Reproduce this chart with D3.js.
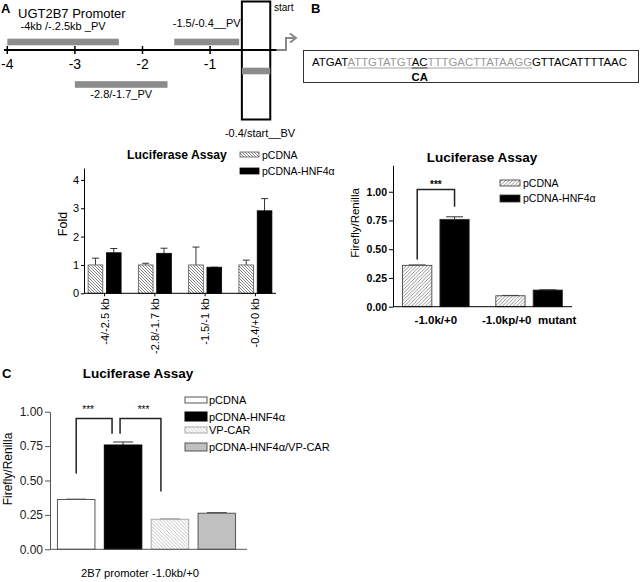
<!DOCTYPE html>
<html><head><meta charset="utf-8">
<script src="https://cdn.jsdelivr.net/npm/d3@7"></script>
<style>body{margin:0;background:#fff} svg{display:block;font-family:"Liberation Sans",Arial,Helvetica,sans-serif}</style>
</head><body><svg id="c" width="640" height="582"></svg>
<script>
// ---------- DATA ----------
// Panel A diagram (kb relative to start)
const diagramTicks = [-4, -3, -2, -1];
const fragLabels = ["-4kb /-.2.5kb _PV", "-2.8/-1.7_PV", "-1.5/-0.4__PV", "-0.4/start__BV"];
const fragStart = [-4.0, -3.0, -1.53, -0.53];
const fragEnd = [-2.35, -1.63, -0.57, -0.11];
// Panel B sequence
const seqParts = ["ATGAT", "ATTGTATGT", "AC", "TTTGACTTATAAGG", "GTTACATTTTAAC"];
const seqMutation = "CA";
// Panel A bar chart
const aCategories = ["-4/-2.5 kb", "-2.8/-1.7 kb", "-1.5/-1 kb", "-0.4/+0 kb"];
const aSeries = ["pCDNA", "pCDNA-HNF4α"];
const aPcdna = [1.0, 1.0, 1.0, 1.0];
const aPcdnaErr = [0.24, 0.06, 0.63, 0.17];
const aHnf = [1.43, 1.41, 0.92, 2.91];
const aHnfErr = [0.15, 0.18, 0.0, 0.43];
const aYTicks = [0, 1, 2, 3, 4];
// Panel B bar chart
const bCategories = ["-1.0k/+0", "-1.0kp/+0  mutant"];
const bSeries = ["pCDNA", "pCDNA-HNF4α"];
const bPcdna = [0.36, 0.095];
const bPcdnaErr = [0.003, 0.003];
const bHnf = [0.76, 0.145];
const bHnfErr = [0.022, 0.002];
const bYTicks = [0, 0.25, 0.5, 0.75, 1.0];
// Panel C bar chart
const cCategories = ["pCDNA", "pCDNA-HNF4α", "VP-CAR", "pCDNA-HNF4α/VP-CAR"];
const cValues = [0.362, 0.758, 0.218, 0.262];
const cErr = [0.002, 0.022, 0.001, 0.004];
const cYTicks = [0, 0.25, 0.5, 0.75, 1.0];
const cXLabel = "2B7 promoter -1.0kb/+0";

// ---------- DRAW ----------
const svg = d3.select("#c");
const defs = svg.append("defs");
function hatch(id, dir, size, color, w) {
  const p = defs.append("pattern").attr("id", id).attr("patternUnits", "userSpaceOnUse")
    .attr("width", size).attr("height", size);
  p.append("rect").attr("width", size).attr("height", size).attr("fill", "#fff");
  const s = size;
  const d = dir === "back"
    ? `M${-s/2},${s/2} L${s/2},${s*1.5} M0,0 L${s},${s} M${s/2},${-s/2} L${s*1.5},${s/2}`
    : `M${-s/2},${s/2} L${s/2},${-s/2} M0,${s} L${s},0 M${s/2},${s*1.5} L${s*1.5},${s/2}`;
  p.append("path").attr("d", d).attr("stroke", color).attr("stroke-width", w);
}
hatch("hA", "back", 3, "#666", 0.8);
hatch("hB", "fwd", 3.5, "#777", 0.8);
hatch("hC", "back", 3.5, "#b5b5b5", 0.8);

// ----- Panel A diagram -----
svg.append("text").attr("x", 1).attr("y", 13).attr("font-size", 13).attr("font-weight", "bold").text("A");
svg.append("text").attr("x", 18).attr("y", 18).attr("font-size", 13).text("UGT2B7 Promoter");
const xKb = d3.scaleLinear().domain([-4, 0]).range([7.3, 277.7]);
const axisY = 50;
svg.append("line").attr("x1", 4).attr("x2", xKb(0) - 1).attr("y1", axisY).attr("y2", axisY)
  .attr("stroke", "#000").attr("stroke-width", 2);
diagramTicks.forEach(t => {
  svg.append("line").attr("x1", xKb(t)).attr("x2", xKb(t)).attr("y1", axisY - 4).attr("y2", axisY + 4)
    .attr("stroke", "#000").attr("stroke-width", 1.5);
  svg.append("text").attr("x", xKb(t)).attr("y", axisY + 19).attr("text-anchor", "middle")
    .attr("font-size", 14).text(String(t));
});
// transcription arrow
svg.append("path").attr("d", `M${xKb(0) - 1},${axisY} H286 V38 H295`).attr("fill", "none")
  .attr("stroke", "#888").attr("stroke-width", 2);
svg.append("path").attr("d", "M290,33.5 L296,38 L290,42.5").attr("fill", "none")
  .attr("stroke", "#888").attr("stroke-width", 2);
// fragments
const fragBarY = [42, 84.5, 42, 71];
const fragLabelY = [30, 98, 27, 137];
fragLabels.forEach((lab, i) => {
  const x0 = xKb(fragStart[i]), x1 = xKb(fragEnd[i]);
  if (i === 3) {
    svg.append("rect").attr("x", x0).attr("y", 1.5).attr("width", x1 - x0).attr("height", 118)
      .attr("fill", "none").attr("stroke", "#000").attr("stroke-width", 2);
  }
  svg.append("rect").attr("x", x0).attr("y", fragBarY[i] - 3.3).attr("width", x1 - x0).attr("height", 6.6)
    .attr("fill", "#8c8c8c");
  svg.append("text").attr("x", i === 3 ? (x0 + x1) / 2 + 4 : (x0 + x1) / 2).attr("y", fragLabelY[i])
    .attr("text-anchor", "middle").attr("font-size", 11).text(lab);
});
svg.append("text").attr("x", 274).attr("y", 11).attr("font-size", 10).text("start");

// ----- Panel B sequence -----
svg.append("text").attr("x", 311).attr("y", 13).attr("font-size", 13).attr("font-weight", "bold").text("B");
svg.append("rect").attr("x", 303.5).attr("y", 50.5).attr("width", 335).attr("height", 32)
  .attr("fill", "none").attr("stroke", "#333").attr("stroke-width", 1);
const seqText = svg.append("text").attr("x", 312).attr("y", 66).attr("font-size", 11.4);
const seqColors = ["#000", "#999", "#000", "#999", "#000"];
seqParts.forEach((p, i) => seqText.append("tspan").attr("fill", seqColors[i]).text(p));
const tnode = seqText.node();
let idx = 0;
const starts = seqParts.map(p => { const s = idx; idx += p.length; return s; });
[1, 2, 3].forEach(i => {
  const sx = tnode.getStartPositionOfChar(starts[i]).x;
  const ex = tnode.getEndPositionOfChar(starts[i] + seqParts[i].length - 1).x;
  svg.append("line").attr("x1", sx).attr("x2", ex).attr("y1", 68).attr("y2", 68)
    .attr("stroke", seqColors[i]).attr("stroke-width", 0.9);
});
{
  const sx = tnode.getStartPositionOfChar(starts[2]).x;
  const ex = tnode.getEndPositionOfChar(starts[2] + 1).x;
  svg.append("text").attr("x", (sx + ex) / 2).attr("y", 81).attr("text-anchor", "middle")
    .attr("font-size", 11.3).attr("font-weight", "bold").text(seqMutation);
}

// helper for error bars
function errBar(g, cx, y, yTop, cap, color) {
  g.append("line").attr("x1", cx).attr("x2", cx).attr("y1", y).attr("y2", yTop).attr("stroke", color).attr("stroke-width", 1);
  g.append("line").attr("x1", cx - cap / 2).attr("x2", cx + cap / 2).attr("y1", yTop).attr("y2", yTop).attr("stroke", color).attr("stroke-width", 1);
}

// ----- Panel A bar chart -----
{
  const g = svg.append("g");
  const y = d3.scaleLinear().domain([0, 4.42]).range([293.3, 168]);
  const x = d3.scalePoint().domain(aCategories).range([84, 276]).padding(0.41);
  const xs = d3.scaleBand().domain(aSeries).range([-16.5, 16.5]).paddingInner(0.2);
  const ax = g.append("g").attr("transform", "translate(84,0)")
    .call(d3.axisLeft(y).tickValues(aYTicks).tickFormat(d3.format("d")).tickSize(3).tickSizeOuter(0).tickPadding(2));
  ax.selectAll("text").attr("font-size", 11).attr("font-family", null);
  ax.select(".domain").attr("stroke", "#000");
  const vals = [aPcdna, aHnf], errs = [aPcdnaErr, aHnfErr];
  aCategories.forEach((c, i) => {
    aSeries.forEach((s, k) => {
      const bx = x(c) + xs(s), w = xs.bandwidth();
      errBar(g, bx + w / 2, y(vals[k][i]), y(vals[k][i] + errs[k][i]), 7, "#333");
      g.append("rect").attr("x", bx).attr("y", y(vals[k][i])).attr("width", w).attr("height", y(0) - y(vals[k][i]))
        .attr("fill", k === 0 ? "url(#hA)" : "#000").attr("stroke", k === 0 ? "#555" : "#000").attr("stroke-width", 0.8);
    });
    g.append("line").attr("x1", x(c)).attr("x2", x(c)).attr("y1", y(0)).attr("y2", y(0) + 3).attr("stroke", "#000");
    g.append("text").attr("transform", `translate(${x(c) + 4},${y(0) + 5}) rotate(-90)`)
      .attr("text-anchor", "end").attr("font-size", 11).text(c);
  });
  g.append("line").attr("x1", 84).attr("x2", 276).attr("y1", y(0)).attr("y2", y(0)).attr("stroke", "#000");
  g.append("text").attr("transform", "translate(67,224) rotate(-90)").attr("text-anchor", "middle")
    .attr("font-size", 12.5).text("Fold");
  g.append("text").attr("x", 177).attr("y", 159).attr("text-anchor", "middle").attr("font-size", 12.2)
    .attr("font-weight", "bold").text("Luciferase Assay");
  const lg = [[152, 5, "url(#hA)", "#555"], [168, 6, "#000", "#000"]];
  aSeries.forEach((s, k) => {
    g.append("rect").attr("x", 240).attr("y", lg[k][0]).attr("width", 19).attr("height", lg[k][1])
      .attr("fill", lg[k][2]).attr("stroke", lg[k][3]).attr("stroke-width", 0.8);
    g.append("text").attr("x", 262).attr("y", lg[k][0] + 6.5).attr("font-size", 10.5).text(s);
  });
}

// ----- Panel B bar chart -----
{
  const g = svg.append("g");
  const y = d3.scaleLinear().domain([0, 1.23]).range([306.7, 165.3]);
  const x = d3.scalePoint().domain(bCategories).range([393, 572]).padding(0.46);
  const xs = d3.scaleBand().domain(bSeries).range([-33.3, 33.3]).paddingInner(0.216);
  const ax = g.append("g").attr("transform", "translate(393,0)")
    .call(d3.axisLeft(y).tickValues(bYTicks).tickFormat(d3.format(".2f")).tickSize(4).tickSizeOuter(0).tickPadding(2));
  ax.selectAll("text").attr("font-size", 10.5).attr("font-weight", "bold").attr("font-family", null);
  ax.select(".domain").attr("stroke", "#000");
  const vals = [bPcdna, bHnf], errs = [bPcdnaErr, bHnfErr];
  bCategories.forEach((c, i) => {
    bSeries.forEach((s, k) => {
      const bx = x(c) + xs(s), w = xs.bandwidth();
      errBar(g, bx + w / 2, y(vals[k][i]), y(vals[k][i] + errs[k][i]), 17, "#333");
      g.append("rect").attr("x", bx).attr("y", y(vals[k][i])).attr("width", w).attr("height", y(0) - y(vals[k][i]))
        .attr("fill", k === 0 ? "url(#hB)" : "#000").attr("stroke", "#333").attr("stroke-width", 0.8);
    });
    g.append("text").attr("x", x(c)).attr("y", 324).attr("text-anchor", "middle").attr("font-size", 11.5)
      .attr("font-weight", "bold").attr("xml:space", "preserve").style("white-space", "pre").text(c);
  });
  g.append("line").attr("x1", 393).attr("x2", 572).attr("y1", y(0)).attr("y2", y(0)).attr("stroke", "#000");
  // significance bracket
  const c0 = bCategories[0];
  const lx = x(c0) + xs(bSeries[0]) + xs.bandwidth() / 2, rx = x(c0) + xs(bSeries[1]) + xs.bandwidth() / 2;
  g.append("path").attr("d", `M${lx},${y(0.41)} V${y(1.02)} H${rx} V${y(0.87)}`).attr("fill", "none")
    .attr("stroke", "#222").attr("stroke-width", 1.5);
  g.append("text").attr("x", (lx + rx) / 2).attr("y", y(1.02) - 1).attr("text-anchor", "middle")
    .attr("font-size", 10).attr("font-weight", "bold").text("***");
  g.append("text").attr("transform", "translate(359,223) rotate(-90)").attr("text-anchor", "middle")
    .attr("font-size", 11.5).text("Firefly/Renilla");
  g.append("text").attr("x", 482).attr("y", 162).attr("text-anchor", "middle").attr("font-size", 13.5)
    .attr("font-weight", "bold").text("Luciferase Assay");
  const lg = [[180, 6, "url(#hB)"], [195, 7, "#000"]];
  bSeries.forEach((s, k) => {
    g.append("rect").attr("x", 500).attr("y", lg[k][0]).attr("width", 20).attr("height", lg[k][1])
      .attr("fill", lg[k][2]).attr("stroke", "#333").attr("stroke-width", 0.8);
    g.append("text").attr("x", 523).attr("y", lg[k][0] + 7).attr("font-size", 10.5).text(s);
  });
}

// ----- Panel C bar chart -----
{
  const g = svg.append("g");
  const y = d3.scaleLinear().domain([0, 1]).range([549.3, 411.7]);
  const x = d3.scaleBand().domain(cCategories).range([49, 244]).paddingInner(0.2).paddingOuter(0.18);
  const ax = g.append("g").attr("transform", "translate(50,0)")
    .call(d3.axisLeft(y).tickValues(cYTicks).tickFormat(d3.format(".2f")).tickSize(5).tickSizeOuter(0).tickPadding(2));
  ax.selectAll("text").attr("font-size", 12).attr("font-family", null).attr("fill", "#222");
  ax.selectAll("line").attr("stroke", "#555");
  ax.select(".domain").attr("stroke", "#555");
  const fills = ["#fff", "#000", "url(#hC)", "#c0c0c0"];
  const strokes = ["#555", "#000", "#aaa", "#555"];
  cCategories.forEach((c, i) => {
    const bx = x(c), w = x.bandwidth();
    errBar(g, bx + w / 2, y(cValues[i]), y(cValues[i] + cErr[i]), 20, "#333");
    g.append("rect").attr("x", bx).attr("y", y(cValues[i])).attr("width", w).attr("height", y(0) - y(cValues[i]))
      .attr("fill", fills[i]).attr("stroke", strokes[i]).attr("stroke-width", 1);
  });
  g.append("line").attr("x1", 50).attr("x2", 247).attr("y1", y(0)).attr("y2", y(0)).attr("stroke", "#555");
  // brackets
  const cx = c => x(c) + x.bandwidth() / 2;
  const brackets = [
    { from: 0, to: 1, lowL: 0.55, lowR: 0.84, dxL: 0, dxR: -11, sx: -6 },
    { from: 1, to: 2, lowL: 0.84, lowR: 0.42, dxL: -3, dxR: -9, sx: 3 }
  ];
  brackets.forEach(b => {
    const lx = cx(cCategories[b.from]) + b.dxL, rx = cx(cCategories[b.to]) + b.dxR;
    g.append("path").attr("d", `M${lx},${y(b.lowL)} V${y(0.95)} H${rx} V${y(b.lowR)}`).attr("fill", "none")
      .attr("stroke", "#222").attr("stroke-width", 1.5);
    g.append("text").attr("x", (lx + rx) / 2 + b.sx).attr("y", 413).attr("text-anchor", "middle")
      .attr("font-size", 10).attr("fill", "#000").text("***");
  });
  g.append("text").attr("transform", "translate(12,469) rotate(-90)").attr("text-anchor", "middle")
    .attr("font-size", 12).text("Firefly/Renilla");
  g.append("text").attr("x", 140).attr("y", 577).attr("text-anchor", "middle").attr("font-size", 11.2).text(cXLabel);
  g.append("text").attr("x", 2).attr("y", 378).attr("font-size", 13).attr("font-weight", "bold").text("C");
  g.append("text").attr("x", 138).attr("y", 378).attr("text-anchor", "middle").attr("font-size", 13.5)
    .attr("font-weight", "bold").text("Luciferase Assay");
  const lgY = [397, 412, 427, 443], lgH = [6, 9, 6, 8];
  cCategories.forEach((c, i) => {
    g.append("rect").attr("x", 185).attr("y", lgY[i]).attr("width", 22).attr("height", lgH[i])
      .attr("fill", fills[i]).attr("stroke", strokes[i]).attr("stroke-width", 1);
    g.append("text").attr("x", 209).attr("y", lgY[i] + lgH[i] / 2 + 4).attr("font-size", 11).text(c);
  });
}
</script></body></html>
